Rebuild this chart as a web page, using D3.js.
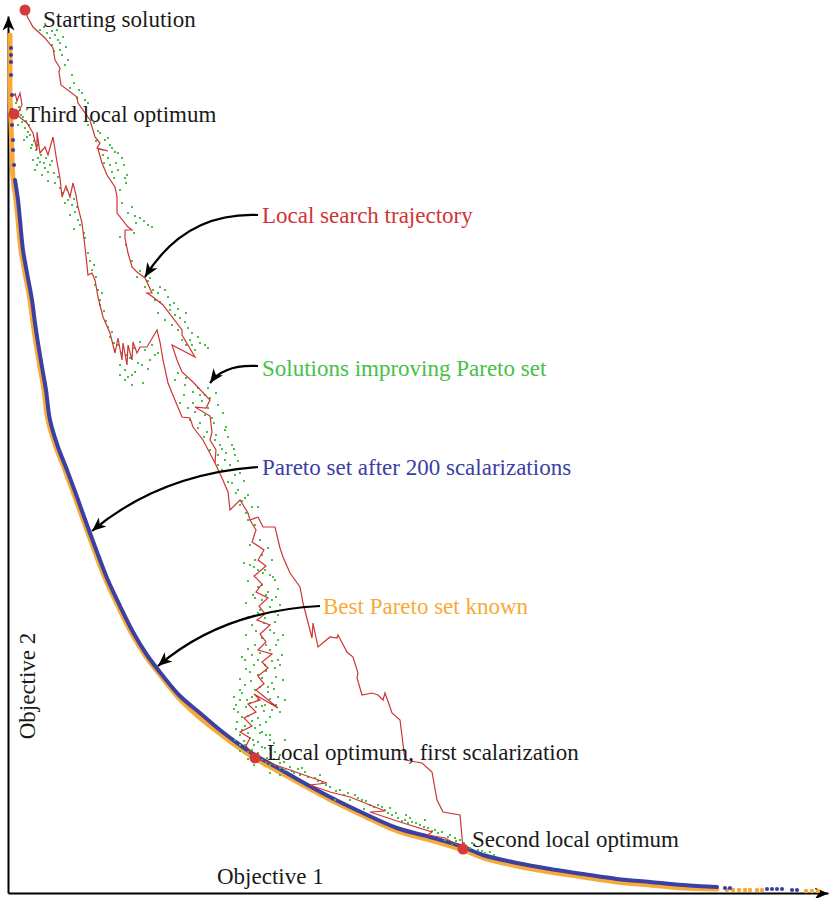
<!DOCTYPE html>
<html>
<head>
<meta charset="utf-8">
<script src="https://cdn.jsdelivr.net/npm/d3@7"></script>
<style>
  html, body { margin: 0; padding: 0; background: #fff; }
  svg { display: block; }
  text { font-family: "Liberation Serif", "Times New Roman", "DejaVu Serif", serif; }
</style>
</head>
<body>
<svg id="chart" width="830" height="898"></svg>
<script>
// ---------------- DATA (objective units) ----------------
const blueFront = [[7,713],[10,693],[12,673],[15,643],[19,620],[24,593],[27,570],[30,550],[34,526],[38,503],[42,473],[50,446],[59,423],[69,396],[79,368],[89,341],[99,315],[112,287],[125,261],[139,238],[155,217],[172,197],[192,180],[212,163],[232,148],[250,136],[270,125],[289,114],[322,96],[355,80],[389,65],[422,56],[455,46],[475,38],[509,30],[542,24],[575,19],[609,14],[642,11],[675,8],[709,6]];
const blueTop = [[3,845],[3,838],[3,831],[3,818],[4,798],[4,783],[4,768],[5,753],[5,743],[6,728]];
const blueTail = [[717,5],[722,5],[759,4],[764,4],[769,4],[774,4],[784,3],[789,3]];
const orangeFront = [[2,858],[2,830],[2,800],[3,770],[4,740],[5,715],[8,693],[10,673],[13,643],[17,620],[22,593],[25,570],[28,550],[32,526],[36,503],[40,473],[48,446],[57,423],[67,396],[77,368],[87,341],[97,315],[110,287],[123,261],[137,238],[153,217],[170,196],[190,177],[210,161],[230,146],[248,134],[268,123],[288,112],[321,94],[354,78],[389,62],[422,53],[455,43],[476,35],[509,27],[542,21],[575,16],[609,11],[642,8],[675,5],[709,4]];
const orangeTail = [[719,3],[725,3],[731,3],[737,3],[742,3],[749,3],[754,3],[798,2],[804,2],[810,2]];

const trajStart = [[17,883],[20,875],[25,866],[37,855],[45,845],[47,833],[52,825],[51,821],[53,808],[69,796],[70,790],[82,773],[87,756],[92,750],[89,745],[100,742],[90,744],[94,730],[99,718],[107,706],[109,696],[109,680],[120,666],[124,663],[117,663],[117,655],[120,640],[124,626],[129,621],[137,615],[144,600],[139,600],[145,596],[155,588],[174,563],[174,558],[187,536],[164,548],[169,533],[174,521],[185,511],[202,493],[198,485],[187,486],[202,477],[204,461],[202,453],[208,443],[207,430]];
const trajThird = [[7,800],[9,792],[12,800],[14,788],[9,778],[19,770],[25,760],[29,743],[29,761],[32,740],[37,746],[40,738],[45,756],[49,731],[52,715],[54,696],[58,707],[62,696],[65,710],[68,698],[70,686],[74,670],[77,646],[80,618],[84,620],[87,613],[90,596],[95,576],[102,560],[107,540],[110,555],[114,533],[115,550],[119,528],[120,548],[124,533],[125,551],[129,540],[132,546],[139,546],[149,563],[152,551],[155,533],[160,510],[164,500],[174,476],[182,475],[185,466],[195,453],[207,430],[214,415],[220,401],[222,383],[232,393],[240,380],[242,373],[250,376]];
const trajDescent = [[242,373],[248,363],[244,351],[256,343],[250,333],[258,327],[246,317],[254,309],[248,301],[260,295],[251,287],[257,279],[249,273],[262,268],[252,259],[258,251],[250,243],[264,239],[254,231],[260,225],[250,217],[256,209],[248,203],[270,185],[246,199],[252,193],[240,189],[248,181],[236,175],[244,167],[232,161],[242,155],[238,147],[247,136]];
const trajToSecond = [[250,376],[255,366],[267,366],[272,345],[275,336],[282,320],[292,306],[295,290],[304,255],[305,270],[310,246],[322,256],[329,255],[330,258],[339,241],[345,236],[350,220],[349,215],[354,198],[364,200],[370,198],[375,193],[377,200],[382,186],[384,180],[392,173],[397,133],[414,130],[424,121],[429,93],[435,81],[452,78],[455,45]];
const trajAlongFront = [[247,135],[282,123],[319,110],[302,108],[322,101],[342,96],[357,90],[377,82],[362,81],[392,71],[424,61],[420,58],[437,55],[455,45]];

const improving = [
[32,863],[39,860],[47,858],[50,853],[44,848],[52,843],[54,838],[42,855],[55,856],[49,863],[57,828],[62,805],[71,803],[69,795],[77,793],[80,768],[92,760],[97,753],[102,748],[107,741],[95,738],[96,730],[102,728],[104,721],[110,723],[117,715],[114,735],[119,718],[112,703],[120,680],[127,677],[132,675],[140,668],[112,656],[129,616],[137,606],[145,603],[152,606],[147,593],[157,603],[162,588],[162,583],[167,578],[172,575],[177,571],[180,565],[170,563],[174,553],[182,553],[184,548],[187,543],[192,550],[197,548],[157,573],[152,591],[142,615],
[36,866],[44,862],[52,850],[46,842],[58,846],[60,833],[64,818],[66,810],[74,800],[80,790],[84,780],[86,770],[90,762],[100,755],[88,752],[104,745],[110,740],[100,735],[108,730],[116,728],[106,715],[118,710],[114,690],[124,686],[128,670],[136,672],[144,666],[126,660],[118,648],[124,632],[132,622],[140,612],[150,600],[160,596],[166,590],[170,584],[178,580],[184,560],[190,556],[178,548],[200,545],[164,568],[150,580],
[7,798],[9,793],[12,783],[14,771],[10,768],[17,765],[20,761],[22,758],[16,753],[24,748],[28,743],[30,735],[25,733],[32,731],[37,725],[40,721],[34,718],[42,728],[27,723],[47,710],[52,705],[59,703],[62,698],[64,688],[62,678],[67,681],[70,673],[60,693],[77,655],[84,623],[87,608],[90,603],[92,593],[92,588],[100,566],[104,561],[107,543],[112,528],[117,523],[120,516],[124,508],[135,510],[142,533],[132,551],[137,543],[147,538],[122,535],[127,521],[117,513],
[8,790],[11,786],[13,778],[15,776],[18,772],[21,768],[19,756],[26,752],[23,745],[30,748],[33,738],[36,730],[29,728],[38,735],[44,732],[46,720],[50,716],[40,712],[55,700],[57,690],[66,694],[69,686],[72,668],[66,664],[76,660],[80,640],[82,632],[86,628],[88,616],[94,600],[96,582],[98,572],[102,556],[106,550],[110,548],[114,540],[118,538],[126,545],[130,530],[134,528],[140,524],[112,518],[124,518],[144,548],[150,540],
[167,513],[177,508],[185,501],[192,498],[197,498],[202,495],[172,490],[180,485],[187,481],[197,478],[204,475],[182,473],[190,465],[199,461],[207,453],[212,448],[202,443],[210,438],[217,433],[222,428],[214,423],[227,418],[220,411],[230,403],[237,395],[232,388],[227,438],[224,448],[217,463],[240,373],[247,368],[252,353],[242,348],[260,345],[254,338],[264,333],[247,333],[257,323],
[170,520],[178,515],[190,505],[200,505],[208,500],[176,498],[194,492],[210,488],[185,490],[200,485],[215,480],[192,470],[206,470],[218,466],[196,456],[208,458],[220,456],[214,444],[226,444],[230,432],[218,440],[210,428],[232,420],[224,410],[236,412],[228,400],[240,398],[234,392],[244,386],[238,380],[250,386],
[242,328],[250,323],[262,318],[267,313],[254,308],[260,301],[247,295],[264,293],[272,288],[252,283],[257,275],[267,271],[244,268],[262,263],[254,255],[270,253],[247,248],[262,243],[274,238],[250,233],[257,228],[267,225],[242,221],[254,215],[264,210],[237,208],[247,203],[260,201],[270,196],[232,193],[242,190],[254,187],[264,183],[230,181],[240,177],[250,175],[258,171],[237,167],[247,165],[254,161],[232,158],[242,155],[262,153],[250,151],[237,148],[257,145],[244,143],[267,141],[254,133],[262,128],[272,125],[282,126],[240,141],[227,153],[234,163],[229,171],[272,181],[277,193],[275,213],[270,233],
[237,233],[244,238],[232,203],[228,188],[257,188],[252,168],[262,158],[232,148],[277,153],[254,293],[267,281],[239,193],[250,193],[245,153],[259,135],
[236,330],[246,326],[255,320],[265,316],[240,312],[250,306],[270,304],[245,298],[258,298],[268,296],[238,290],[262,286],[250,280],[240,276],[270,278],[256,270],[248,262],[266,260],[238,258],[275,258],[258,248],[240,244],[268,248],[252,240],[234,236],[264,232],[246,228],[272,228],[238,224],[258,222],[250,218],[268,216],[232,214],[243,212],[260,206],[234,200],[252,206],[266,204],[226,196],[244,196],[262,194],[238,186],[256,182],[248,186],[268,188],[226,184],[234,176],[244,172],[262,176],[252,160],[228,164],[240,160],[258,158],[266,150],[236,152],[246,148],[254,146],[262,144],[232,142],[250,140],[272,138],[258,130],[266,134],[276,131],[284,122],[290,124],[262,120],[272,118],[246,128],[240,134],
[267,128],[277,123],[292,118],[297,121],[307,115],[314,110],[322,106],[332,103],[340,100],[347,98],[354,93],[362,88],[370,88],[377,83],[384,78],[390,75],[397,73],[404,71],[412,68],[420,65],[427,63],[434,61],[442,58],[447,55],[452,53],[462,45],[470,43],[477,40],[482,41],[464,50],[327,93],[342,93],[382,85],[402,75],[417,73],[437,53],[444,48],
[272,130],[286,120],[300,116],[310,112],[318,108],[328,102],[336,98],[350,95],[358,92],[366,86],[374,86],[380,80],[388,80],[394,72],[400,70],[408,70],[416,66],[424,62],[430,60],[440,56],[448,52],[456,50],[466,48],[474,42],[486,38],[294,125],[312,118],[356,84],[398,78]
];

const optimaNames = ["Starting solution", "Third local optimum", "Local optimum, first scalarization", "Second local optimum"];
const optimaX = [17, 6, 247, 455];
const optimaY = [883, 779, 135, 44];

const calloutLabels = ["Local search trajectory", "Solutions improving Pareto set", "Pareto set after 200 scalarizations", "Best Pareto set known"];
const axisLabels = ["Objective 1", "Objective 2"];

// ---------------- LAYOUT / STYLE ----------------
const FONT = "Liberation Serif, Times New Roman, DejaVu Serif, serif";
const RED = "#cf3434", GREEN = "#46c046", BLUE = "#3b40a4", ORANGE = "#f8aa36";

const svg = d3.select("#chart");
const x = d3.scaleLinear().domain([0, 820]).range([8, 828]);
const y = d3.scaleLinear().domain([0, 877]).range([893, 16]);

const defs = svg.append("defs");
defs.append("marker")
  .attr("id", "head").attr("markerUnits", "userSpaceOnUse")
  .attr("viewBox", "-14 -7 16 14").attr("refX", 0).attr("refY", 0)
  .attr("markerWidth", 16).attr("markerHeight", 14).attr("orient", "auto")
  .append("path").attr("d", "M0,0 L-14,-6 L-10,0 L-14,6 Z").attr("fill", "#000");

// axes (no ticks) with arrow heads
const gx = svg.append("g").attr("transform", `translate(0,${y(0)})`)
  .call(d3.axisBottom(x).tickValues([]).tickSizeOuter(0));
const gy = svg.append("g").attr("transform", `translate(${x(0)},0)`)
  .call(d3.axisLeft(y).tickValues([]).tickSizeOuter(0));
[gx, gy].forEach(g => g.select(".domain").attr("stroke", "#000").attr("stroke-width", 2).attr("marker-end", "url(#head)"));

const line = d3.line().x(d => x(d[0])).y(d => y(d[1]));
const smooth = d3.line().x(d => x(d[0])).y(d => y(d[1])).curve(d3.curveCatmullRom);

// Pareto fronts
svg.append("path").datum(orangeFront).attr("d", smooth).attr("fill", "none")
  .attr("stroke", ORANGE).attr("stroke-width", 5).attr("stroke-linecap", "round");
svg.append("g").selectAll("circle").data(orangeTail).join("circle")
  .attr("cx", d => x(d[0])).attr("cy", d => y(d[1])).attr("r", 2.2).attr("fill", ORANGE);
svg.append("path").datum(blueFront).attr("d", smooth).attr("fill", "none")
  .attr("stroke", BLUE).attr("stroke-width", 4).attr("stroke-linecap", "round");
svg.append("g").selectAll("circle").data(blueTop.concat(blueTail)).join("circle")
  .attr("cx", d => x(d[0])).attr("cy", d => y(d[1])).attr("r", 2.1).attr("fill", BLUE);

// improving solutions
svg.append("g").selectAll("rect").data(improving).join("rect")
  .attr("x", d => x(d[0]) - 1).attr("y", d => y(d[1]) - 1)
  .attr("width", 2).attr("height", 2).attr("fill", GREEN);

// trajectory
[trajStart, trajThird, trajDescent, trajToSecond, trajAlongFront].forEach(t => {
  svg.append("path").datum(t).attr("d", line).attr("fill", "none")
    .attr("stroke", RED).attr("stroke-width", 1.2).attr("stroke-linejoin", "miter");
});

// local optima
const optLabelOffset = [[18, 17], [12, 8], [12, 2], [9, -2]];
optimaNames.forEach((n, i) => {
  svg.append("circle").attr("cx", x(optimaX[i])).attr("cy", y(optimaY[i])).attr("r", 5.5).attr("fill", "#d43a3a");
  svg.append("text").attr("x", x(optimaX[i]) + optLabelOffset[i][0]).attr("y", y(optimaY[i]) + optLabelOffset[i][1])
    .attr("font-family", FONT).attr("font-size", 23).attr("fill", "#1a1a1a").text(n);
});

// callouts with curved arrows
const calloutColors = [RED, GREEN, BLUE, ORANGE];
const calloutPos = [[262, 223], [262, 376], [262, 475], [323, 614]];
const arrowPaths = [
  "M258,215 Q185,212 145,277",
  "M258,366 Q224,364 210,383",
  "M258,467 Q160,474 92,531",
  "M320,606 Q222,611 158,666"
];
arrowPaths.forEach(p => svg.append("path").attr("d", p).attr("fill", "none")
  .attr("stroke", "#000").attr("stroke-width", 2.2).attr("marker-end", "url(#head)"));
calloutLabels.forEach((t, i) => svg.append("text").attr("x", calloutPos[i][0]).attr("y", calloutPos[i][1])
  .attr("font-family", FONT).attr("font-size", 23).attr("fill", calloutColors[i]).text(t));

// axis titles
svg.append("text").attr("x", 217).attr("y", 884).attr("font-family", FONT).attr("font-size", 23).attr("fill", "#1a1a1a").text(axisLabels[0]);
svg.append("text").attr("transform", "translate(35,686) rotate(-90)").attr("text-anchor", "middle")
  .attr("font-family", FONT).attr("font-size", 23).attr("fill", "#1a1a1a").text(axisLabels[1]);
</script>
</body>
</html>
